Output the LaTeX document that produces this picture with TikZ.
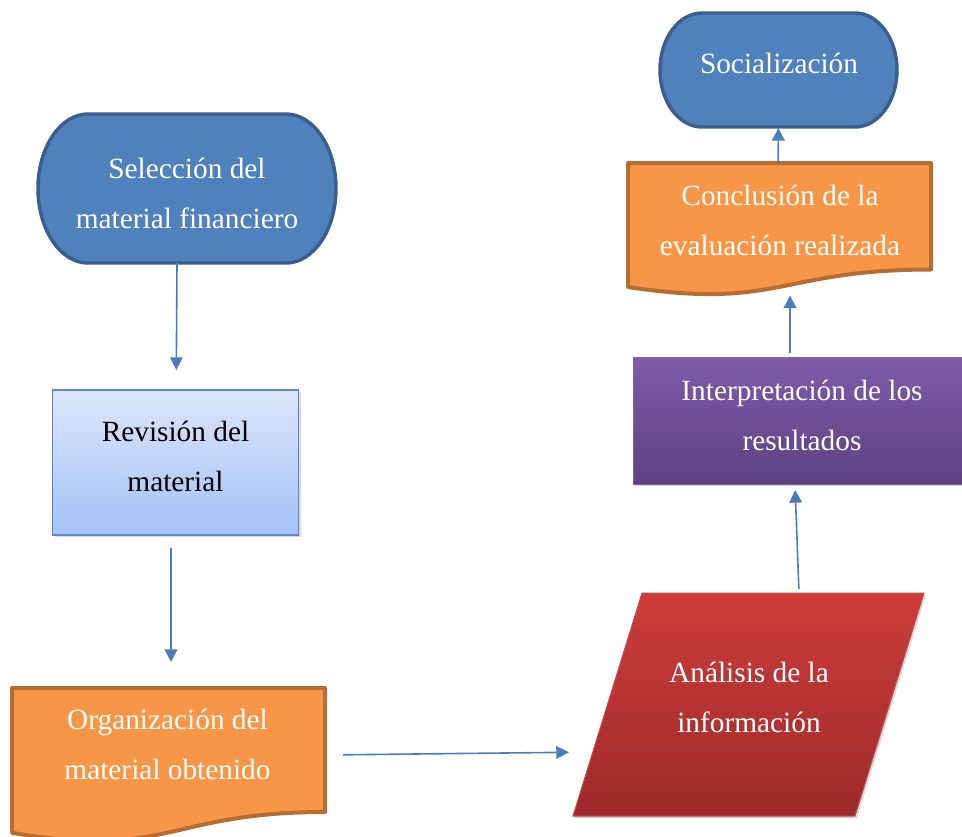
\documentclass[tikz,border=0pt]{standalone}
\usepackage{fontspec}
\setmainfont{Liberation Serif}
\usetikzlibrary{arrows.meta,shadows}
\definecolor{termfill}{HTML}{4F81BD}
\definecolor{termline}{HTML}{3A5F8E}
\definecolor{docfill}{HTML}{F79646}
\definecolor{docline}{HTML}{B66D31}
\definecolor{revtop}{HTML}{DCE6FA}
\definecolor{revbot}{HTML}{A3C2F7}
\definecolor{revline}{HTML}{5A8AC6}
\definecolor{redtop}{HTML}{CD3D3A}
\definecolor{redbot}{HTML}{9D2A2A}
\definecolor{redline}{HTML}{C0504D}
\definecolor{purtop}{HTML}{7F5BA9}
\definecolor{purbot}{HTML}{5C4281}
\definecolor{purline}{HTML}{8064A2}
\definecolor{arrowblue}{HTML}{4A7EBB}
\begin{document}
\begin{tikzpicture}[x=0.75pt,y=-0.75pt,
  lbl/.style={align=center,font=\fontsize{22}{37.5}\selectfont,inner sep=0pt,text=white},
  anchorbox/.style={inner sep=0pt,outer sep=0pt},
  term/.style={fill=termfill,draw=termline,line width=2.6pt},
  docshape/.style={fill=docfill,draw=docline,line width=3pt,line join=round},
  softshadow/.style={drop shadow={opacity=0.3,shadow xshift=1.5pt,shadow yshift=-1.5pt}},
  conn/.style={draw=arrowblue,line width=1.2pt,-{Triangle[length=9.5pt,width=9.5pt]}}]
\useasboundingbox (0,0) rectangle (962,836);

% Seleccion (terminal)
\path[term] (88,114) -- (286,114)
  arc[start angle=90,end angle=-90,x radius=37.5pt,y radius=55.875pt]
  -- (88,263)
  arc[start angle=270,end angle=90,x radius=37.5pt,y radius=55.875pt] -- cycle;
\node[anchorbox,minimum width=298*0.75pt,minimum height=149*0.75pt] (sel) at (187,188.5) {};
\node[lbl] (selT) at (187,193.75) {Selección del\\material financiero};

% Revision (process)
\node[anchorbox,draw=revline,line width=0.9pt,top color=revtop,bottom color=revbot,
  minimum width=246*0.75pt,minimum height=145*0.75pt,softshadow] (rev) at (175.5,462.5) {};
\node[lbl,text=black] (revT) at (175.5,456.75) {Revisión del\\material};

% Organizacion (document)
\path[docshape] (12,688) -- (325,688) -- (325,812)
  .. controls (168.5,812) and (168.5,859.6) .. (12,832.8) -- cycle;
\node[anchorbox,minimum width=313*0.75pt,minimum height=124*0.75pt] (org) at (168.5,750) {};
\node[lbl] (orgT) at (167.5,744.75) {Organización del\\material obtenido};

% Analisis (data / parallelogram)
\path[top color=redtop,bottom color=redbot,draw=redline,line width=0.75pt,softshadow]
  (642,593) -- (924,593) -- (855,816) -- (573,816) -- cycle;
\node[anchorbox,minimum width=351*0.75pt,minimum height=223*0.75pt] (ana) at (748.5,704.5) {};
\coordinate (anaW) at (592.8,752);
\coordinate (anaN) at (799,593);
\node[lbl] (anaT) at (749,697) {Análisis de la\\información};

% Interpretacion (process)
\node[anchorbox,draw=purline,line width=0.75pt,top color=purtop,bottom color=purbot,
  minimum width=337*0.75pt,minimum height=127*0.75pt,softshadow] (int) at (801.5,420.5) {};
\node[lbl] (intT) at (802,415) {Interpretación de los\\resultados};

% Conclusion (document)
\path[docshape] (628,163) -- (931,163) -- (931,269.5)
  .. controls (779.5,269.5) and (779.5,310) .. (628,287) -- cycle;
\node[anchorbox,minimum width=303*0.75pt,minimum height=106.5*0.75pt] (concl) at (779.5,216.25) {};
\node[lbl] (conclT) at (780,220.5) {Conclusión de la\\evaluación realizada};

% Socializacion (terminal)
\path[term] (702,13) -- (855,13)
  arc[start angle=90,end angle=-90,x radius=31.5pt,y radius=42.75pt]
  -- (702,127)
  arc[start angle=270,end angle=90,x radius=31.5pt,y radius=42.75pt] -- cycle;
\node[anchorbox,minimum width=237*0.75pt,minimum height=114*0.75pt] (soc) at (778.5,70) {};
\node[lbl,anchor=base] (socT) at (779,73) {Socialización};

% connectors
\draw[conn,shorten >=15pt] ([xshift=-7.5pt]sel.south) -- ([xshift=0.5pt]rev.north);
\draw[conn,shorten <=9.75pt,shorten >=19.5pt] ([xshift=-3.4pt]rev.south) -- ([xshift=1.9pt]org.north);
\draw[conn,shorten <=13.5pt,shorten >=17.9pt] ([yshift=-3.75pt]org.east) -- (anaW);
\draw[conn,shorten <=3pt,shorten >=4.5pt] (anaN) -- ([xshift=-4.9pt]int.south);
\draw[conn,shorten <=3pt,shorten >=19.5pt] ([xshift=-8.6pt]int.north) -- ([xshift=7.9pt]concl.south);
\draw[conn,shorten >=0.75pt] ([xshift=-1.1pt]concl.north) -- (soc.south);
\end{tikzpicture}
\end{document}
